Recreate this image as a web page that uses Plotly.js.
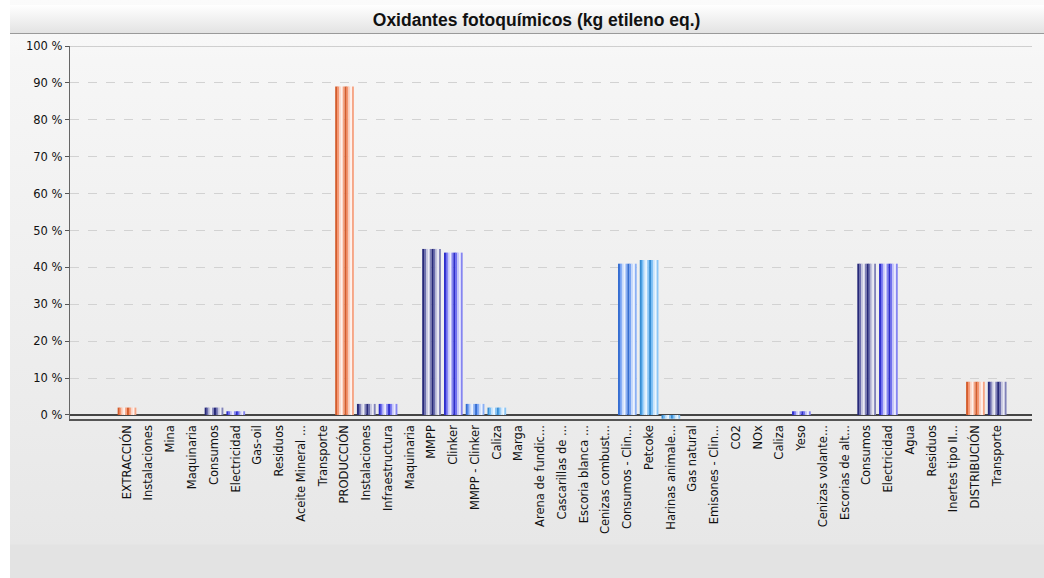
<!DOCTYPE html>
<html><head><meta charset="utf-8">
<script src="https://cdn.plot.ly/plotly-3.0.1.min.js"></script>
<style>
html,body{margin:0;padding:0;background:#fff;}
#wrap{position:relative;width:1044px;height:578px;overflow:hidden;}
#bg{position:absolute;left:10px;top:0;width:1034px;height:578px;background:linear-gradient(#fbfbfb 0px,#f6f6f6 60px,#ebebeb 430px,#e7e7e7 544px,#e3e3e3 545px,#e3e3e3 578px);}
#hdr{position:absolute;left:10px;top:5px;width:1034px;height:28px;background:linear-gradient(#ffffff,#e3e3e3);border-bottom:1px solid #9a9a9a;}
#chart{position:absolute;left:0;top:0;width:1044px;height:578px;}
</style></head>
<body>
<div id="wrap"><div id="bg"></div><div id="hdr"></div><div id="chart"></div></div>
<script>
const chartTitle = 'Oxidantes fotoquímicos (kg etileno eq.)';
const categories = ['EXTRACCIÓN','Instalaciones','Mina','Maquinaria','Consumos','Electricidad','Gas-oil','Residuos','Aceite Mineral ...','Transporte',
  'PRODUCCIÓN','Instalaciones','Infraestructura','Maquinaria','MMPP','Clinker','MMPP - Clinker','Caliza','Marga','Arena de fundic...',
  'Cascarillas de ...','Escoria blanca ...','Cenizas combust...','Consumos - Clin...','Petcoke','Harinas animale...','Gas natural','Emisones - Clin...','CO2','NOx',
  'Caliza','Yeso','Cenizas volante...','Escorias de alt...','Consumos','Electricidad','Agua','Residuos','Inertes tipo II...','DISTRIBUCIÓN',
  'Transporte'];
const values = [2,0,0,0,2,1,0,0,0,0,
  89,3,3,0,45,44,3,2,0,0,
  0,0,0,41,42,-1,0,0,0,0,
  0,1,0,0,41,41,0,0,0,9,
  9];
const levels = [0,1,2,2,1,2,2,1,2,1,
  0,1,2,2,1,2,3,4,3,3,
  3,3,3,3,4,4,4,4,3,3,
  3,2,3,3,1,2,2,1,2,0,
  1];
const yTickVals = [0,10,20,30,40,50,60,70,80,90,100];
const yTickText = ['0 %','10 %','20 %','30 %','40 %','50 %','60 %','70 %','80 %','90 %','100 %'];

// styling
const palette = [[240,104,50],[44,47,138],[52,52,232],[60,124,238],[62,160,240]];
function mix(c, f){
  if (f >= 0) return 'rgb(' + c.map(v => Math.round(v + (255 - v) * f)).join(',') + ')';
  return 'rgb(' + c.map(v => Math.round(v * (1 + f))).join(',') + ')';
}
const profile = [-0.12, 0.3, 0.72, 0.9, 0.4];
const barW = 0.86, sub = 2, sw = barW / (sub * profile.length);
const xs = categories.map((_, i) => i);
const traces = [];
for (let s = 0; s < sub; s++) {
  profile.forEach((f, k) => {
    const idx = s * profile.length + k;
    traces.push({
      type: 'bar', x: xs, y: values,
      offset: -barW / 2 + idx * sw, width: sw * (k === profile.length - 1 ? 1 : 1.2),
      marker: {color: levels.map(l => mix(palette[l], f)), line: {width: 0}},
      hoverinfo: 'skip', showlegend: false
    });
  });
}

const layout = {
  width: 1044, height: 578,
  paper_bgcolor: 'rgba(0,0,0,0)', plot_bgcolor: 'rgba(0,0,0,0)',
  margin: {l: 70, r: 12, t: 46, b: 159},
  barmode: 'overlay',
  title: {text: chartTitle, xref: 'container', yref: 'container', x: 0.514, y: 1 - 20 / 578, xanchor: 'center', yanchor: 'middle',
    font: {family: 'Liberation Sans, Arial, sans-serif', size: 17.5, weight: 700, color: '#111'}},
  xaxis: {range: [-2.62, 41.6], tickmode: 'array', tickvals: xs, ticktext: categories, tickangle: -90,
    tickfont: {family: 'DejaVu Sans, sans-serif', size: 11.5, color: '#111'},
    showgrid: false, zeroline: false, showline: true, linecolor: '#555', linewidth: 1.5, ticks: '', fixedrange: true},
  yaxis: {range: [-1.09, 100], tickmode: 'array', tickvals: yTickVals, ticktext: yTickText,
    tickfont: {family: 'DejaVu Sans, sans-serif', size: 11.5, color: '#111'},
    ticks: 'outside', ticklen: 4, tickcolor: '#555', showline: true, linecolor: '#666', linewidth: 1.2,
    showgrid: true, gridcolor: '#d2d2d2', griddash: 'dash', gridwidth: 1,
    zeroline: true, zerolinecolor: '#444', zerolinewidth: 1.5, fixedrange: true},
  shapes: [{type: 'line', xref: 'paper', yref: 'y', x0: 0, x1: 1, y0: 100, y1: 100, line: {color: '#a8a8a8', width: 1}}]
};
Plotly.newPlot('chart', traces, layout, {displayModeBar: false, staticPlot: true});
</script>
</body></html>
